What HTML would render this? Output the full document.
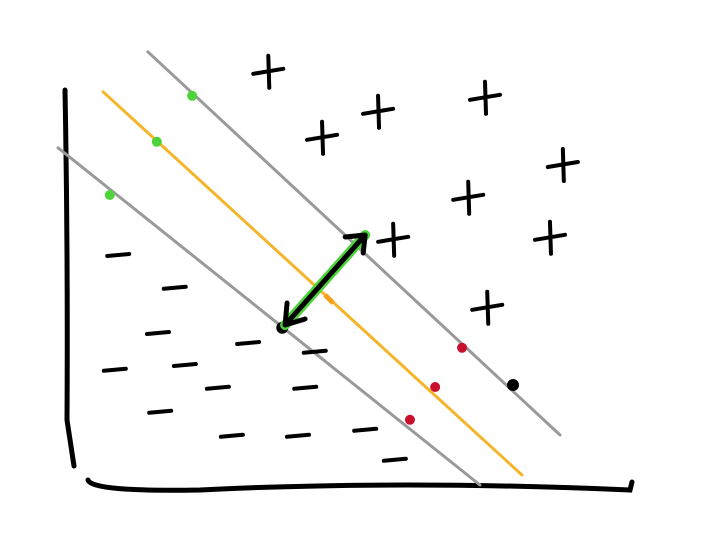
<!DOCTYPE html>
<html><head><meta charset="utf-8"><style>
html,body{margin:0;padding:0;background:#fff;width:720px;height:560px;overflow:hidden}
svg{display:block}
</style></head><body>
<svg id="chart" width="720" height="560" viewBox="0 0 720 560" xmlns="http://www.w3.org/2000/svg">
<path d="M65 90 Q68 250 67 420 L74 466" stroke="#000" stroke-width="5" fill="none" stroke-linecap="round"/>
<path d="M88 480 Q92 492 200 490 Q400 480 630 490 L632 482" stroke="#000" stroke-width="5" fill="none" stroke-linecap="round"/>
<g id="g"></g>
</svg>
<script>
const plusX=[36.3,55.9,45.9,75,72,88.9,86.6,58.6,75.4];
const plusY=[103.3,93.3,86.8,96.8,71.8,80,61.8,61.3,44.3];
const minusX=[9.5,19.6,16.6,8.9,21.4,32.7,44.6,27.3,42.9,17,29.8,41.6,53.6,58.9];
const minusY=[57.5,49.3,38,28.8,30,35.5,33.3,24.3,24.3,18.3,12.3,12.3,13.8,6.3];
const lowerLine=[-1.25,84.3,74.1,0];
const boundaryLine=[6.8,98.3,81.6,2.5];
const upperLine=[14.8,108.3,88.4,12.5];
const greenX=[8,16.4,22.7];
const greenY=[72.5,85.8,97.3];
const redX=[61.6,66.1,70.9];
const redY=[16.3,24.5,34.3];
const supportX=[38.8,80];
const supportY=[39.3,25];
const arrowFrom=[53.6,62.5];
const arrowTo=[39.3,40];

const x=v=>65+v*5.6, y=v=>485-v*4;
const NS="http://www.w3.org/2000/svg", g=document.getElementById('g');
function mk(tag,attrs){const e=document.createElementNS(NS,tag);for(const k in attrs)e.setAttribute(k,attrs[k]);g.appendChild(e);return e;}
function line(a,color,w,name){
  const e=mk('line',{x1:x(a[0]),y1:y(a[1]),x2:x(a[2]),y2:y(a[3]),stroke:color,'stroke-width':w,'stroke-linecap':'round'});
  
  
}
line(lowerLine,'#9a9a9a',3,'lower-margin-line');
line(upperLine,'#9a9a9a',3,'upper-margin-line');
line(boundaryLine,'#f5b52a',3,'decision-boundary');
for(let i=0;i<plusX.length;i++){
  const cx=x(plusX[i]),cy=y(plusY[i]);
  const p=mk('path',{d:`M${cx-15} ${cy+2} L${cx+15} ${cy-3} M${cx} ${cy-16} L${cx+1} ${cy+16}`,stroke:'#000','stroke-width':4,'stroke-linecap':'round',fill:'none'});
  
  
}
for(let i=0;i<minusX.length;i++){
  const cx=x(minusX[i]),cy=y(minusY[i]);
  const p=mk('line',{x1:cx-11,y1:cy+1,x2:cx+11,y2:cy-1,stroke:'#000','stroke-width':4,'stroke-linecap':'round'});
  
  
}
for(let i=0;i<greenX.length;i++){
  const c=mk('circle',{cx:x(greenX[i]),cy:y(greenY[i]),r:5,fill:'#4cd43a'});
  
  
}
for(let i=0;i<redX.length;i++){
  const c=mk('circle',{cx:x(redX[i]),cy:y(redY[i]),r:5,fill:'#c8102e'});
  
  
}
for(let i=0;i<supportX.length;i++){
  const c=mk('circle',{cx:x(supportX[i]),cy:y(supportY[i]),r:6,fill:'#000'});
  
  
}
const ax1=x(arrowFrom[0]),ay1=y(arrowFrom[1]),ax2=x(arrowTo[0]),ay2=y(arrowTo[1]);
const ang=mk('path',{d:`M${ax2+40} ${ay2-30} L${ax2+48} ${ay2-22}`,stroke:'#f5a020','stroke-width':5,fill:'none'});


const glow=mk('line',{x1:ax1,y1:ay1,x2:ax2,y2:ay2,stroke:'#4cd43a','stroke-width':10,'stroke-linecap':'round'});


const arr=mk('path',{d:`M${ax1} ${ay1} L${ax2} ${ay2} M${ax1-20} ${ay1+2} L${ax1} ${ay1} L${ax1-2} ${ay1+18} M${ax2+2} ${ay2-22} L${ax2} ${ay2} L${ax2+20} ${ay2-6}`,stroke:'#000','stroke-width':5,'stroke-linecap':'round','stroke-linejoin':'round',fill:'none'});


</script>
</body></html>
